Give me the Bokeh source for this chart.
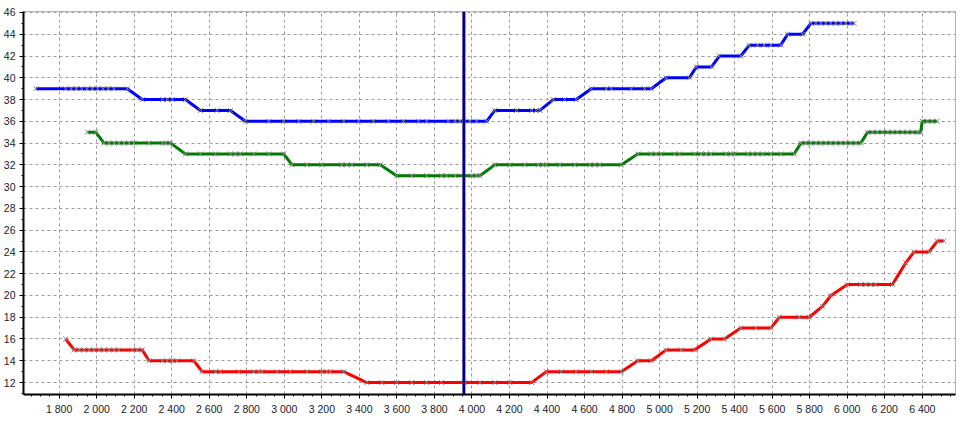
import numpy as np
from bokeh.plotting import figure
from bokeh.models import FixedTicker, Span, Range1d
from bokeh.embed import file_html
from bokeh.resources import INLINE

# ---------------- data ----------------
blue_x = [1676, 1835, 1864, 1892, 1920, 1949, 1977, 2005, 2034, 2062, 2092, 2163,
          2243, 2350, 2376, 2403, 2473,
          2553, 2642, 2713,
          2793, 2917, 2997, 3077, 3156, 3236, 3316, 3396, 3475, 3555, 3635, 3715, 3759,
          3874, 3910, 3936, 3989, 4025, 4078,
          4122, 4238, 4318, 4344, 4362,
          4433, 4494, 4556,
          4636, 4716, 4743, 4849, 4920, 4956,
          5035, 5159,
          5196, 5277,
          5318, 5433,
          5478, 5522, 5557, 5593, 5646,
          5682, 5762,
          5806, 5833, 5859, 5886, 5912, 5939, 5966, 5992, 6019, 6037]
blue_y = [39] * 12 + [38] * 5 + [37] * 3 + [36] * 19 + [37] * 5 + [38] * 3 + [39] * 6 \
    + [40] * 2 + [41] * 2 + [42] * 2 + [43] * 5 + [44] * 2 + [45] * 10

green_x = [1951, 1995,
           2039, 2066, 2093, 2119, 2146, 2172, 2199, 2279, 2350, 2367, 2394,
           2473, 2553, 2633, 2713, 2739, 2766, 2837, 2917, 2997,
           3041, 3121, 3200, 3306, 3333, 3360, 3440, 3511,
           3599, 3679, 3759, 3838, 3865, 3910, 3998, 4025, 4042,
           4122, 4202, 4282, 4353, 4380, 4397, 4468, 4548, 4628, 4654, 4681, 4796,
           4884, 4956, 4982, 5009, 5079, 5106, 5186, 5221, 5248, 5274, 5354, 5381, 5399,
           5470, 5496, 5523, 5549, 5593, 5646, 5717,
           5753, 5779, 5806, 5833, 5859, 5886, 5912, 5939, 5966, 5992, 6019, 6046, 6073,
           6108, 6135, 6161, 6188, 6215, 6241, 6268, 6295, 6321, 6348, 6375, 6391,
           6400, 6427, 6453, 6480]
green_y = [35] * 2 + [34] * 11 + [33] * 9 + [32] * 8 + [31] * 9 + [32] * 12 + [33] * 20 \
    + [34] * 13 + [35] * 12 + [36] * 4

red_x = [1835,
         1880, 1907, 1933, 1960, 1986, 2013, 2039, 2066, 2093, 2119, 2190, 2216, 2243,
         2279, 2350, 2376, 2403, 2429, 2518,
         2562, 2633, 2659, 2757, 2837, 2864, 2881, 2961, 3032, 3121, 3200, 3227, 3245, 3316,
         3440, 3520, 3599, 3679, 3759, 3838, 3962, 4042, 4122, 4202, 4318,
         4397, 4477, 4556, 4636, 4716, 4796,
         4884, 4956,
         5035, 5115, 5186,
         5274, 5345,
         5433, 5513, 5593,
         5638, 5744, 5797,
         5868,
         5913,
         6001, 6072, 6099, 6126, 6152, 6241,
         6312,
         6356, 6436,
         6480, 6515]
red_y = [16] + [15] * 13 + [14] * 6 + [13] * 14 + [12] * 11 + [13] * 6 + [14] * 2 \
    + [15] * 3 + [16] * 2 + [17] * 3 + [18] * 3 + [19] + [20] + [21] * 6 + [23] \
    + [24] * 2 + [25] * 2

cursor_x = 3957

x_ticks = [1800, 2000, 2200, 2400, 2600, 2800, 3000, 3200, 3400, 3600, 3800, 4000,
           4200, 4400, 4600, 4800, 5000, 5200, 5400, 5600, 5800, 6000, 6200, 6400]
x_labels = ["1 800", "2 000", "2 200", "2 400", "2 600", "2 800", "3 000", "3 200",
            "3 400", "3 600", "3 800", "4 000", "4 200", "4 400", "4 600", "4 800",
            "5 000", "5 200", "5 400", "5 600", "5 800", "6 000", "6 200", "6 400"]
y_ticks = [12, 14, 16, 18, 20, 22, 24, 26, 28, 30, 32, 34, 36, 38, 40, 42, 44, 46]

# ---------------- figure ----------------
p = figure(width=958, height=420, output_backend="svg", toolbar_location=None,
           x_range=Range1d(1610, 6577), y_range=Range1d(10.9, 46.09),
           min_border_left=21, min_border_right=3, min_border_top=11, min_border_bottom=26,
           background_fill_color="white", border_fill_color="white")
p.outline_line_color = "#b4b4b4"
p.outline_line_width = 1

p.xaxis.ticker = FixedTicker(ticks=x_ticks, minor_ticks=list(range(1650, 6576, 50)))
p.yaxis.ticker = FixedTicker(ticks=y_ticks, minor_ticks=list(range(11, 47, 1)))
p.xaxis.major_label_overrides = dict(zip(x_ticks, x_labels))

for ax in (p.xaxis[0], p.yaxis[0]):
    ax.axis_line_color = "black"
    ax.axis_line_width = 2
    ax.major_tick_line_color = "black"
    ax.minor_tick_line_color = "black"
    ax.major_tick_in = 0
    ax.major_tick_out = 4
    ax.minor_tick_in = 0
    ax.minor_tick_out = 2
    ax.major_label_text_font = "Liberation Sans"
    ax.major_label_text_font_size = "10.5px"
    ax.major_label_text_color = "#1a1a2a"
    ax.major_label_standoff = 4

for g in (p.xgrid[0], p.ygrid[0]):
    g.grid_line_color = "#9a9a9a"
    g.grid_line_dash = "3 3"
    g.grid_line_width = 1

series = [(blue_x, blue_y, "#0000ff"), (green_x, green_y, "#007a00"), (red_x, red_y, "#ff0000")]
for xs, ys, col in series:
    p.line(xs, ys, line_color=col, line_width=3)
    p.scatter(xs, ys, marker="x", size=7, line_color="#858585", line_width=1)

p.add_layout(Span(location=cursor_x, dimension="height", line_color="#000080", line_width=3))

cross_y = [float(np.interp(cursor_x, xs, ys)) for xs, ys, _ in series]
p.scatter([cursor_x] * 3, cross_y, marker="square", size=3,
          fill_color=["#ffff80", "#ff9aa0", "#ffff80"], line_color=None)

open("out.html", "w").write(file_html(p, INLINE))
